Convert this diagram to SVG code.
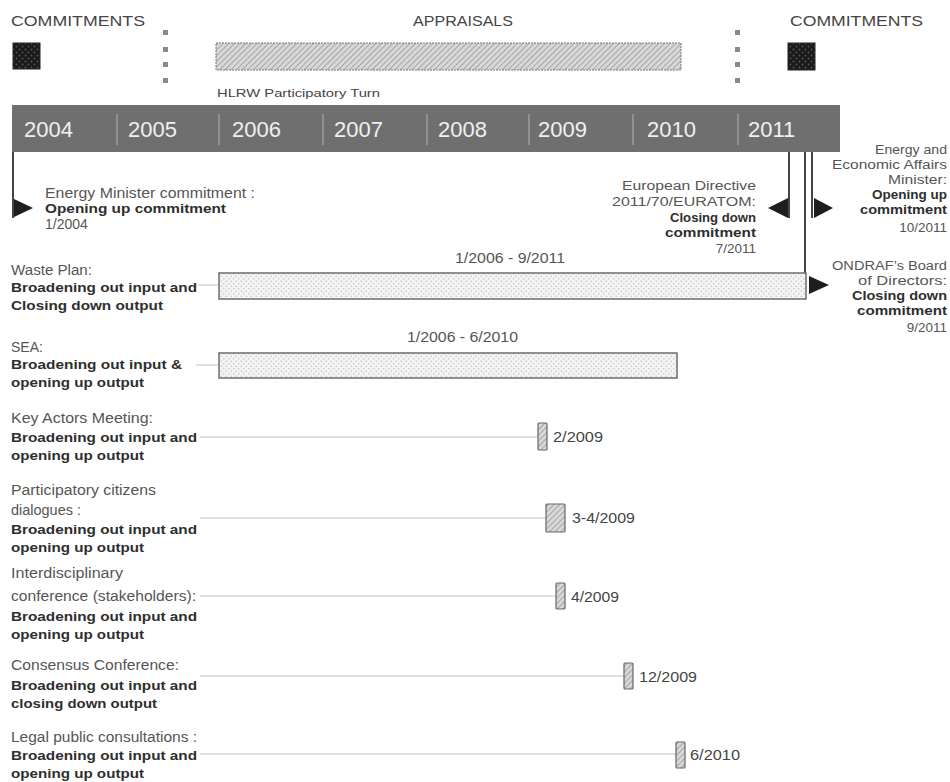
<svg xmlns="http://www.w3.org/2000/svg" width="950" height="782" viewBox="0 0 950 782">
<defs>
<pattern id="dots" width="5" height="5" patternUnits="userSpaceOnUse">
<rect width="5" height="5" fill="#f4f4f4"/>
<circle cx="1.25" cy="1.25" r="0.8" fill="#c4c4c4"/>
<circle cx="3.75" cy="3.75" r="0.8" fill="#c4c4c4"/>
</pattern>
<pattern id="darkdots" width="6" height="6" patternUnits="userSpaceOnUse">
<rect width="6" height="6" fill="#1a1a1a"/>
<circle cx="1.5" cy="1.5" r="0.9" fill="#555"/>
<circle cx="4.5" cy="4.5" r="0.9" fill="#555"/>
</pattern>
<pattern id="hatch" width="4" height="4" patternUnits="userSpaceOnUse" patternTransform="rotate(45)">
<rect width="4" height="4" fill="#d8d8d8"/>
<line x1="0" y1="0" x2="0" y2="4" stroke="#8a8a8a" stroke-width="1.3"/>
</pattern>
</defs>
<style>
text{font-family:"Liberation Sans",Arial,sans-serif;}
.hd{font-size:15px;fill:#454545;}
.yr{font-size:22px;fill:#f0f0f0;}
.rg{font-size:14px;fill:#555;}
.bd{font-size:13px;fill:#2e2e2e;font-weight:bold;}
.rs{font-size:12.5px;fill:#555;}
.rd{font-size:13.5px;fill:#555;}
.rb{font-size:12.5px;fill:#2e2e2e;font-weight:bold;}
.sm{font-size:11px;fill:#444;}
.dt{font-size:15px;fill:#444;}
.conn{stroke:#d6d6d6;stroke-width:1.5;fill:none;}
.vl{stroke:#444;stroke-width:2;fill:none;}
.bar{fill:url(#dots);stroke:#6e6e6e;stroke-width:1.5;}
.tick{fill:url(#hatch);stroke:#666;stroke-width:1.2;}
.tri{fill:#1e1e1e;}
.sq{fill:#8a8a8a;}
</style>

<g id="legend">
<text class="hd" x="11" y="26" textLength="134" lengthAdjust="spacingAndGlyphs">COMMITMENTS</text>
<rect x="13" y="43" width="27" height="26" fill="url(#darkdots)" stroke="#222"/>
<rect class="sq" x="163" y="30" width="5" height="5"/>
<rect class="sq" x="163" y="47" width="5" height="5"/>
<rect class="sq" x="163" y="62" width="5" height="5"/>
<rect class="sq" x="163" y="78" width="5" height="5"/>
<text class="hd" x="413" y="26" textLength="100" lengthAdjust="spacingAndGlyphs">APPRAISALS</text>
<rect x="216" y="43" width="465" height="27" fill="url(#hatch)" stroke="#777" stroke-width="1" stroke-dasharray="2,1"/>
<text class="sm" x="217" y="97" textLength="163" lengthAdjust="spacingAndGlyphs">HLRW Participatory Turn</text>
<rect class="sq" x="735" y="30" width="5" height="5"/>
<rect class="sq" x="735" y="47" width="5" height="5"/>
<rect class="sq" x="735" y="62" width="5" height="5"/>
<rect class="sq" x="735" y="78" width="5" height="5"/>
<text class="hd" x="790" y="26" textLength="133" lengthAdjust="spacingAndGlyphs">COMMITMENTS</text>
<rect x="788" y="43" width="27" height="27" fill="url(#darkdots)" stroke="#222"/>
</g>

<g id="timeline">
<rect x="12" y="105" width="828" height="47" fill="#6f6f6f"/>
<g stroke="#a8a8a8" stroke-width="1.2">
<line x1="117" y1="114" x2="117" y2="145"/>
<line x1="219" y1="114" x2="219" y2="145"/>
<line x1="323" y1="114" x2="323" y2="145"/>
<line x1="427" y1="114" x2="427" y2="145"/>
<line x1="529" y1="114" x2="529" y2="145"/>
<line x1="633" y1="114" x2="633" y2="145"/>
<line x1="738" y1="114" x2="738" y2="145"/>
</g>
<text class="yr" x="24" y="137">2004</text>
<text class="yr" x="128" y="137">2005</text>
<text class="yr" x="232" y="137">2006</text>
<text class="yr" x="334" y="137">2007</text>
<text class="yr" x="438" y="137">2008</text>
<text class="yr" x="538" y="137">2009</text>
<text class="yr" x="647" y="137">2010</text>
<text class="yr" x="748" y="137">2011</text>
</g>

<g id="connectors">
<line class="vl" x1="13" y1="152" x2="13" y2="218"/>
<line class="vl" x1="789" y1="152" x2="789" y2="218"/>
<line class="vl" x1="805" y1="152" x2="805" y2="273"/>
<line class="vl" x1="812" y1="152" x2="812" y2="218"/>
<line class="conn" x1="198" y1="285" x2="219" y2="285"/>
<line class="conn" x1="196" y1="365" x2="219" y2="365"/>
<line class="conn" x1="200" y1="437" x2="538" y2="437"/>
<line class="conn" x1="200" y1="518" x2="546" y2="518"/>
<line class="conn" x1="200" y1="596" x2="556" y2="596"/>
<line class="conn" x1="200" y1="676" x2="624" y2="676"/>
<line class="conn" x1="200" y1="754" x2="676" y2="754"/>
</g>

<g id="energy-minister">
<polygon class="tri" points="14,199 33,208 14,217"/>
<text class="rg" x="45" y="198" textLength="210" lengthAdjust="spacingAndGlyphs">Energy Minister commitment :</text>
<text class="bd" x="45" y="213" textLength="181" lengthAdjust="spacingAndGlyphs">Opening up commitment</text>
<text class="rg" x="45" y="229">1/2004</text>
</g>

<g id="european-directive">
<polygon class="tri" points="788,198 768,208 788,218"/>
<g text-anchor="end">
<text class="rs" x="756" y="190" textLength="134" lengthAdjust="spacingAndGlyphs">European Directive</text>
<text class="rs" x="756" y="206" textLength="144" lengthAdjust="spacingAndGlyphs">2011/70/EURATOM:</text>
<text class="rb" x="756" y="222" textLength="86" lengthAdjust="spacingAndGlyphs">Closing down</text>
<text class="rb" x="756" y="237" textLength="91" lengthAdjust="spacingAndGlyphs">commitment</text>
<text class="rd" x="756" y="253">7/2011</text>
</g>
</g>

<g id="energy-economic-minister">
<polygon class="tri" points="814,198 833,208 814,218"/>
<g text-anchor="end">
<text class="rs" x="947" y="154" textLength="72" lengthAdjust="spacingAndGlyphs">Energy and</text>
<text class="rs" x="947" y="169" textLength="115" lengthAdjust="spacingAndGlyphs">Economic Affairs</text>
<text class="rs" x="947" y="184" textLength="59" lengthAdjust="spacingAndGlyphs">Minister:</text>
<text class="rb" x="947" y="199" textLength="75" lengthAdjust="spacingAndGlyphs">Opening up</text>
<text class="rb" x="947" y="214" textLength="87" lengthAdjust="spacingAndGlyphs">commitment</text>
<text class="rd" x="947" y="232">10/2011</text>
</g>
</g>

<g id="ondraf-board">
<polygon class="tri" points="809,276 829,285 809,294"/>
<g text-anchor="end">
<text class="rs" x="947" y="270" textLength="115" lengthAdjust="spacingAndGlyphs">ONDRAF’s Board</text>
<text class="rs" x="947" y="285" textLength="89" lengthAdjust="spacingAndGlyphs">of Directors:</text>
<text class="rb" x="947" y="300" textLength="95" lengthAdjust="spacingAndGlyphs">Closing down</text>
<text class="rb" x="947" y="315" textLength="90" lengthAdjust="spacingAndGlyphs">commitment</text>
<text class="rd" x="947" y="332">9/2011</text>
</g>
</g>

<g id="waste-plan">
<text class="rg" x="11" y="275" textLength="81" lengthAdjust="spacingAndGlyphs">Waste Plan:</text>
<text class="bd" x="11" y="292" textLength="186" lengthAdjust="spacingAndGlyphs">Broadening out input and</text>
<text class="bd" x="11" y="310" textLength="152" lengthAdjust="spacingAndGlyphs">Closing down output</text>
<rect class="bar" x="219" y="273" width="587" height="26"/>
<text class="rg" x="455" y="263" textLength="110" lengthAdjust="spacingAndGlyphs">1/2006 - 9/2011</text>
</g>

<g id="sea">
<text class="rg" x="11" y="352">SEA:</text>
<text class="bd" x="11" y="369" textLength="171" lengthAdjust="spacingAndGlyphs">Broadening out input &amp;</text>
<text class="bd" x="11" y="387" textLength="133" lengthAdjust="spacingAndGlyphs">opening up output</text>
<rect class="bar" x="219" y="353" width="458" height="25"/>
<text class="rg" x="407" y="342" textLength="111" lengthAdjust="spacingAndGlyphs">1/2006 - 6/2010</text>
</g>

<g id="key-actors">
<text class="rg" x="11" y="423" textLength="142" lengthAdjust="spacingAndGlyphs">Key Actors Meeting:</text>
<text class="bd" x="11" y="442" textLength="186" lengthAdjust="spacingAndGlyphs">Broadening out input and</text>
<text class="bd" x="11" y="460" textLength="133" lengthAdjust="spacingAndGlyphs">opening up output</text>
<rect class="tick" x="538" y="423" width="9" height="27" rx="1"/>
<text class="dt" x="553" y="442" textLength="50" lengthAdjust="spacingAndGlyphs">2/2009</text>
</g>

<g id="citizens-dialogues">
<text class="rg" x="11" y="495" textLength="145" lengthAdjust="spacingAndGlyphs">Participatory citizens</text>
<text class="rg" x="11" y="515" textLength="70" lengthAdjust="spacingAndGlyphs">dialogues :</text>
<text class="bd" x="11" y="534" textLength="186" lengthAdjust="spacingAndGlyphs">Broadening out input and</text>
<text class="bd" x="11" y="552" textLength="133" lengthAdjust="spacingAndGlyphs">opening up output</text>
<rect class="tick" x="546" y="504" width="19" height="28" rx="1"/>
<text class="dt" x="572" y="523" textLength="63" lengthAdjust="spacingAndGlyphs">3-4/2009</text>
</g>

<g id="interdisciplinary">
<text class="rg" x="11" y="578" textLength="112" lengthAdjust="spacingAndGlyphs">Interdisciplinary</text>
<text class="rg" x="11" y="601" textLength="185" lengthAdjust="spacingAndGlyphs">conference (stakeholders):</text>
<text class="bd" x="11" y="621" textLength="186" lengthAdjust="spacingAndGlyphs">Broadening out input and</text>
<text class="bd" x="11" y="639" textLength="133" lengthAdjust="spacingAndGlyphs">opening up output</text>
<rect class="tick" x="556" y="583" width="9" height="26" rx="1"/>
<text class="dt" x="571" y="602" textLength="48" lengthAdjust="spacingAndGlyphs">4/2009</text>
</g>

<g id="consensus-conference">
<text class="rg" x="11" y="670" textLength="168" lengthAdjust="spacingAndGlyphs">Consensus Conference:</text>
<text class="bd" x="11" y="690" textLength="186" lengthAdjust="spacingAndGlyphs">Broadening out input and</text>
<text class="bd" x="11" y="708" textLength="146" lengthAdjust="spacingAndGlyphs">closing down output</text>
<rect class="tick" x="624" y="663" width="9" height="26" rx="1"/>
<text class="dt" x="639" y="682" textLength="58" lengthAdjust="spacingAndGlyphs">12/2009</text>
</g>

<g id="legal-consultations">
<text class="rg" x="11" y="742" textLength="186" lengthAdjust="spacingAndGlyphs">Legal public consultations :</text>
<text class="bd" x="11" y="760" textLength="186" lengthAdjust="spacingAndGlyphs">Broadening out input and</text>
<text class="bd" x="11" y="778" textLength="133" lengthAdjust="spacingAndGlyphs">opening up output</text>
<rect class="tick" x="676" y="742" width="9" height="26" rx="1"/>
<text class="dt" x="690" y="760" textLength="50" lengthAdjust="spacingAndGlyphs">6/2010</text>
</g>
</svg>
